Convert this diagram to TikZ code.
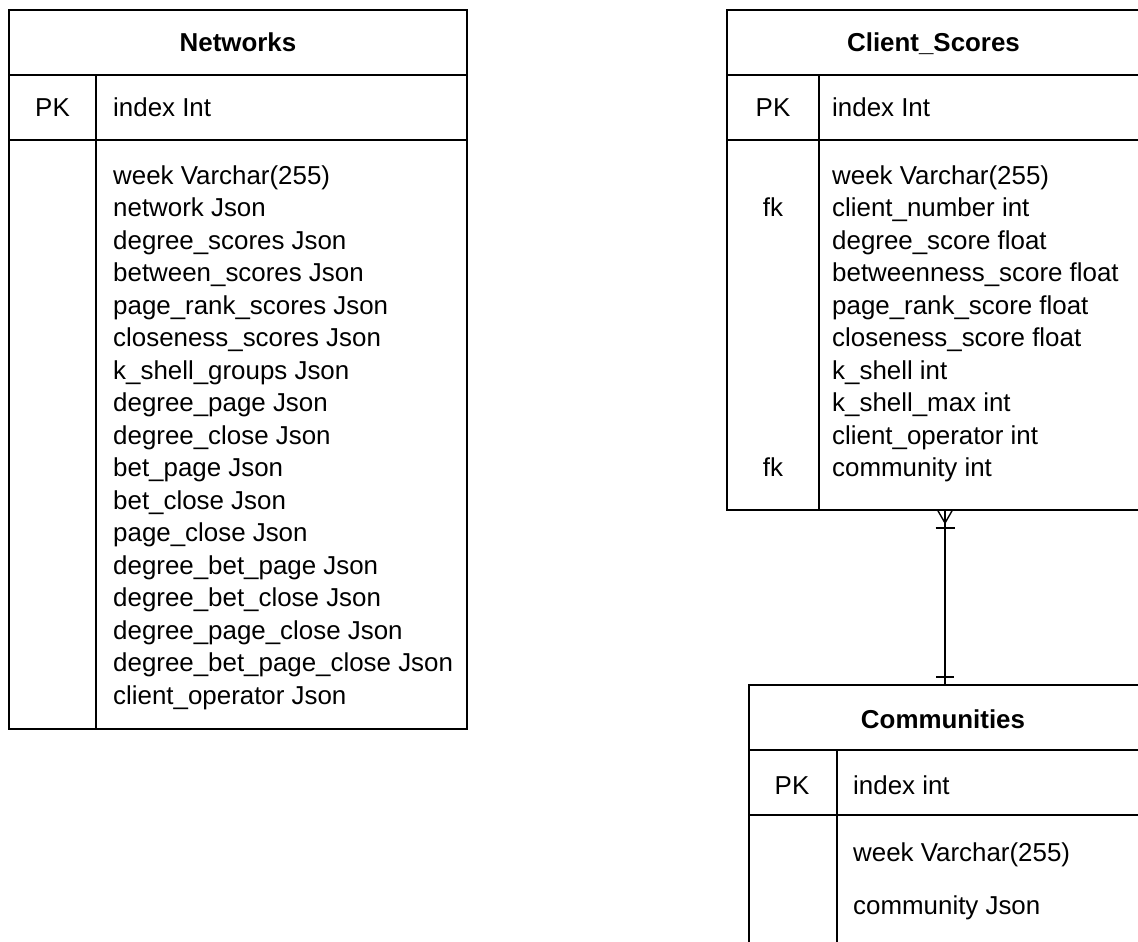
\documentclass[tikz,border=0pt]{standalone}
\usepackage{fontspec}
\setmainfont{Liberation Sans}
\begin{document}
\begin{tikzpicture}[x=1pt,y=-1pt,
  tbl/.style={draw, line width=1.4pt, inner sep=0pt, outer sep=0pt, anchor=north west},
  rule/.style={line width=1.4pt},
  hdr/.style={font=\fontsize{25.9}{30}\selectfont\bfseries, anchor=base, inner sep=0pt},
  fld/.style={font=\fontsize{25.9}{30}\selectfont, anchor=base west, inner sep=0pt},
  keycol/.style={font=\fontsize{25.9}{30}\selectfont, anchor=base, inner sep=0pt},
  relline/.style={line width=1.4pt},
]
\useasboundingbox (0,0) rectangle (1138,942);
\clip (0,0) rectangle (1138,942);

% ---------- Networks ----------
\node[tbl, minimum width=458pt, minimum height=719pt] (net) at (9,10) {};
\draw[rule] (9,75) -- (467,75);
\draw[rule] (9,140) -- (467,140);
\draw[rule] (96,75) -- (96,729);
\node[hdr] (nethdr) at (238,52) {Networks};
\node[keycol] (netpk) at (52.5,117) {PK};
\node[fld] (netidx) at (113,117) {index Int};
\foreach \f [count=\i from 0] in {week Varchar(255), network Json, degree\_scores Json,
    between\_scores Json, page\_rank\_scores Json, closeness\_scores Json,
    k\_shell\_groups Json, degree\_page Json, degree\_close Json, bet\_page Json,
    bet\_close Json, page\_close Json, degree\_bet\_page Json, degree\_bet\_close Json,
    degree\_page\_close Json, degree\_bet\_page\_close Json, client\_operator Json}
  \node[fld] (netf\i) at (113,184+32.5*\i) {\f};

% ---------- Client_Scores ----------
\node[tbl, minimum width=413pt, minimum height=500pt] (cs) at (727,10) {};
\draw[rule] (727,75) -- (1140,75);
\draw[rule] (727,140) -- (1140,140);
\draw[rule] (819,75) -- (819,510);
\node[hdr] (cshdr) at (933.5,52) {Client\_Scores};
\node[keycol] (cspk) at (773,117) {PK};
\node[fld] (csidx) at (832,117) {index Int};
\foreach \f [count=\i from 0] in {week Varchar(255), client\_number int, degree\_score float,
    betweenness\_score float, page\_rank\_score float, closeness\_score float,
    k\_shell int, k\_shell\_max int, client\_operator int, community int}
  \node[fld] (csf\i) at (832,184+32.5*\i) {\f};
\node[keycol] (csfk1) at (773,184+32.5) {fk};
\node[keycol] (csfk9) at (773,184+32.5*9) {fk};

% ---------- Communities ----------
\node[tbl, minimum width=391pt, minimum height=280pt] (com) at (749,685) {};
\draw[rule] (749,750) -- (1140,750);
\draw[rule] (749,815) -- (1140,815);
\draw[rule] (837,750) -- (837,965);
\node[hdr] (comhdr) at (943,728) {Communities};
\node[keycol] (compk) at (792,794) {PK};
\node[fld] (comidx) at (853,794) {index int};
\node[fld] (comf0) at (853,861) {week Varchar(255)};
\node[fld] (comf1) at (853,914) {community Json};

% ---------- relationship: many Client_Scores to one Community ----------
\coordinate (csfoot) at (945,510);
\coordinate (comtop) at (945,685);
\draw[relline] (csfoot) -- (comtop);
% crow's foot with bar (one or many) at Client_Scores
\draw[relline] ([xshift=-7.5pt]csfoot) -- ([yshift=-13pt]csfoot) -- ([xshift=7.5pt]csfoot);
\draw[relline] ([xshift=-9.5pt,yshift=-18pt]csfoot) -- ([xshift=9.5pt,yshift=-18pt]csfoot);
% single bar (one) at Communities
\draw[relline] ([xshift=-9pt,yshift=8pt]comtop) -- ([xshift=9pt,yshift=8pt]comtop);
\end{tikzpicture}
\end{document}
